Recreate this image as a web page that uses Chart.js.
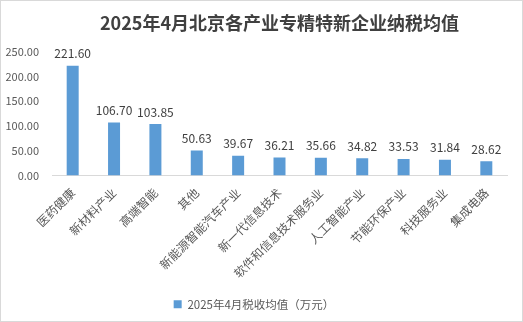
<!DOCTYPE html>
<html>
<head>
<meta charset="utf-8">
<script src="https://cdn.jsdelivr.net/npm/chart.js@4.4.1/dist/chart.umd.min.js"></script>
<style>
  html, body { margin: 0; padding: 0; background: #fff; }
  #wrap { width: 523px; height: 322px; box-sizing: border-box; border: 1px solid #d9d9d9; }
  canvas { display: block; }
</style>
</head>
<body>
<div id="wrap"><canvas id="c" width="521" height="320"></canvas></div>
<script>
const categories = ['医药健康', '新材料产业', '高端智能', '其他', '新能源智能汽车产业', '新一代信息技术',
  '软件和信息技术服务业', '人工智能产业', '节能环保产业', '科技服务业', '集成电路'];
const taxAvg = [221.60, 106.70, 103.85, 50.63, 39.67, 36.21, 35.66, 34.82, 33.53, 31.84, 28.62];
const seriesName = '2025年4月税收均值（万元）';
const chartTitle = '2025年4月北京各产业专精特新企业纳税均值';
const yMax = 250, yStep = 50;

const FONT = '"Noto Sans CJK SC", "Noto Sans", sans-serif';
const BLUE = '#5b9bd5';

// value labels above each bar
const barLabels = {
  id: 'barLabels',
  afterDatasetsDraw(chart) {
    const ctx = chart.ctx;
    const meta = chart.getDatasetMeta(0);
    ctx.save();
    ctx.font = '12px ' + FONT;
    ctx.fillStyle = '#404040';
    ctx.textAlign = 'center';
    ctx.textBaseline = 'bottom';
    meta.data.forEach((bar, i) => {
      ctx.fillText(taxAvg[i].toFixed(2), bar.x, bar.y - 6);
    });
    ctx.restore();
  }
};

new Chart(document.getElementById('c'), {
  type: 'bar',
  data: {
    labels: categories,
    datasets: [{
      label: seriesName,
      data: taxAvg,
      backgroundColor: BLUE,
      borderWidth: 0,
      barPercentage: 0.29,
      categoryPercentage: 1
    }]
  },
  options: {
    responsive: false,
    animation: false,
    layout: { padding: { left: 0, right: 15, top: 0, bottom: 1 } },
    scales: {
      y: {
        min: 0, max: yMax,
        ticks: { stepSize: yStep, color: '#595959', font: { family: FONT, size: 11 }, padding: 5,
                 callback: v => Number(v).toFixed(2) },
        grid: { display: false },
        border: { display: false },
        afterFit(s) { s.width = 51; }
      },
      x: {
        ticks: { color: '#595959', font: { family: FONT, size: 12 }, minRotation: 45, maxRotation: 45, autoSkip: false, padding: 2 },
        grid: { display: false },
        border: { display: true, color: '#d9d9d9', width: 1 },
        afterFit(s) { s.height = 113; }
      }
    },
    plugins: {
      title: {
        display: true,
        text: chartTitle,
        fullSize: false,
        color: '#404040',
        font: { family: FONT, size: 18, weight: 'bold' },
        padding: { top: 11, bottom: 18 }
      },
      legend: {
        position: 'bottom',
        labels: { color: '#595959', font: { family: FONT, size: 11.5 }, boxWidth: 8, boxHeight: 8 }
      },
      tooltip: { enabled: false }
    }
  },
  plugins: [barLabels]
});
</script>
</body>
</html>
